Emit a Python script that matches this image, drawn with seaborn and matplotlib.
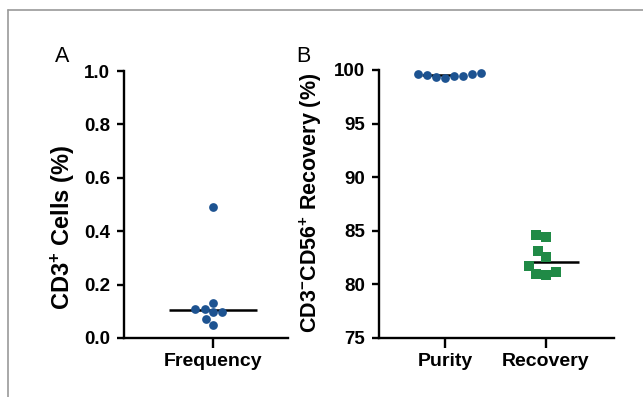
import matplotlib
matplotlib.use("Agg")
import matplotlib.pyplot as plt
from matplotlib.lines import Line2D
import numpy as np
import pandas as pd
import seaborn as sns

# ---- data ----
freq_label = "Frequency"
cd3_values = [0.099, 0.110, 0.130, 0.097, 0.110, 0.049, 0.070, 0.49]
purity_values = [99.47, 99.69, 99.53, 99.63, 99.22, 99.60, 99.35, 99.47]
recovery_values = [82.51, 80.89, 84.59, 83.07, 81.70, 84.44, 80.96, 81.14]
b_categories = ["Purity", "Recovery"]
a_yticks = [0.0, 0.2, 0.4, 0.6, 0.8, 1.0]
b_yticks = [75, 80, 85, 90, 95, 100]

blue = "#1d5391"
green = "#208a46"

sns.set_style("ticks")
plt.rcParams["font.family"] = ["Liberation Sans", "DejaVu Sans"]
plt.rcParams["mathtext.fontset"] = "custom"
plt.rcParams["mathtext.rm"] = "Liberation Sans:bold"
plt.rcParams["mathtext.it"] = "Liberation Sans:bold"
plt.rcParams["mathtext.bf"] = "Liberation Sans:bold"
for k in ["text.color", "axes.labelcolor", "xtick.color", "ytick.color", "axes.edgecolor"]:
    plt.rcParams[k] = "black"

W, H = 643, 397
fig = plt.figure(figsize=(W / 100, H / 100), dpi=100)

def frac(l, r, t, b):
    return [l / W, 1 - b / H, (r - l) / W, (b - t) / H]

axA = fig.add_axes(frac(124, 288, 71, 338))
axB = fig.add_axes(frac(379, 614, 70, 338))

ytick_fs = 13.5
xtick_fs = 14

def style(ax):
    for s in ["top", "right"]:
        ax.spines[s].set_visible(False)
    for s in ["left", "bottom"]:
        ax.spines[s].set_linewidth(1.7)
        ax.spines[s].set_color("black")
    ax.tick_params(axis="y", length=5, width=1.7, pad=5, labelsize=ytick_fs, colors="black")
    ax.tick_params(axis="x", length=7, width=1.7, pad=4, labelsize=xtick_fs, colors="black")
    for lab in ax.get_xticklabels() + ax.get_yticklabels():
        lab.set_fontweight("bold")

# ---- Panel A ----
dfA = pd.DataFrame({"group": [freq_label] * len(cd3_values), "value": cd3_values})
sns.swarmplot(data=dfA, x="group", y="value", ax=axA, color=blue, size=6.3,
              linewidth=0, clip_on=False)
medA = np.median(cd3_values)
axA.hlines(medA, -0.4, 0.4, color="black", lw=1.8, zorder=1)
axA.set_xlim(-0.809, 0.682)
axA.set_ylim(0, 1.0)
axA.set_yticks(a_yticks)
axA.set_yticklabels([f"{v:.1f}" for v in a_yticks])
axA.set_xlabel("")
axA.set_ylabel(r"CD3$^{+}$ Cells (%)", fontsize=17, fontweight="bold", color="black")
style(axA)
axA.yaxis.set_label_coords((63 - 124) / 164, (338 - 227) / 267)
axA.yaxis.label.set_va("center")

# ---- Panel B ----
dfP = pd.DataFrame({"group": ["Purity"] * len(purity_values), "value": purity_values})
dfR = pd.DataFrame({"group": ["Recovery"] * len(recovery_values), "value": recovery_values})
sns.swarmplot(data=dfP, x="group", y="value", order=b_categories, ax=axB,
              color=blue, size=6.3, linewidth=0, clip_on=False)
sns.swarmplot(data=dfR, x="group", y="value", order=b_categories, ax=axB,
              color=green, marker="s", size=7.2, linewidth=0, clip_on=False)
for i, vals in enumerate([purity_values, recovery_values]):
    axB.hlines(np.median(vals), i - 0.23 + (0.05 if i == 1 else 0),
               i + 0.33 if i == 1 else i + 0.1, color="black", lw=1.8, zorder=1)
axB.set_xlim(-0.653, 1.673)
axB.set_ylim(75, 100)
axB.set_yticks(b_yticks)
axB.set_xlabel("")
axB.set_ylabel(r"CD3$^{-}$CD56$^{+}$ Recovery (%)", fontsize=15.5, fontweight="bold", color="black")
style(axB)
axB.yaxis.set_label_coords((311 - 379) / 235, (338 - 203) / 268)
axB.yaxis.label.set_va("center")

# panel letters
fig.text(55 / W, 1 - 62 / H, "A", fontsize=15.5, ha="left", va="baseline", color="black")
fig.text(296 / W, 1 - 62 / H, "B", fontsize=15.5, ha="left", va="baseline", color="black")

# outer frame lines
fig.add_artist(Line2D([7.5 / W, 1.0], [1 - 10 / H, 1 - 10 / H], color="#9a9a9a", lw=1.2))
fig.add_artist(Line2D([7.5 / W, 7.5 / W], [0, 1 - 10 / H], color="#9a9a9a", lw=1.2))

fig.savefig("out.png", dpi=100)
